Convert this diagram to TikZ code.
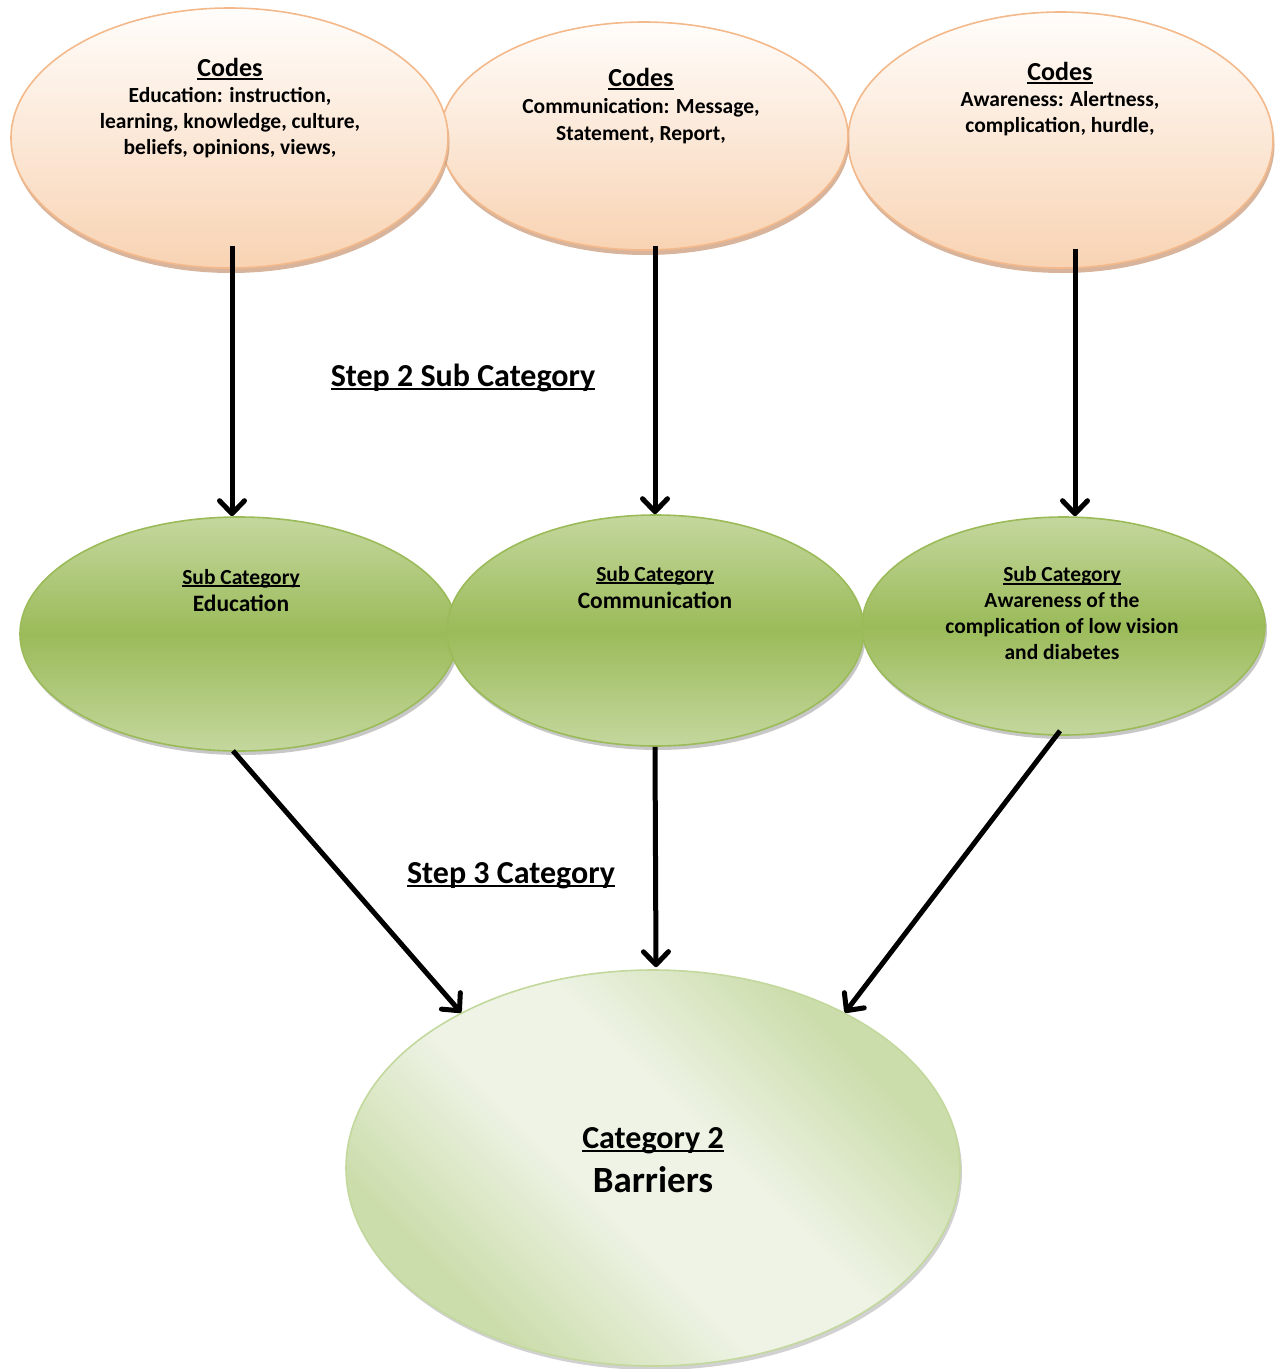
\documentclass[tikz,border=0pt]{standalone}
\usepackage{fontspec}
\setmainfont{Carlito}
\usetikzlibrary{arrows.meta,shapes.geometric,shadows}

% underline at a fixed depth, crossing the descenders
\newsavebox\ulbox
\newcommand\ulbar[1]{\sbox\ulbox{#1}\mbox{\rlap{\rule[-0.13em]{\wd\ulbox}{0.075em}}\usebox\ulbox}}
\newcommand\fs[2]{\fontsize{#1}{#2}\selectfont}

\definecolor{peachtop}{HTML}{FFFDFB}
\definecolor{peachbot}{HTML}{F8D3B3}
\definecolor{peachline}{HTML}{F4B98B}
\definecolor{peachshade}{HTML}{C99B7A}
\definecolor{greenmid}{HTML}{9BBB59}
\definecolor{greenlight}{HTML}{C4D79E}
\definecolor{greenline}{HTML}{9BBB59}
\definecolor{palelight}{HTML}{EEF3E5}
\definecolor{paledark}{HTML}{CCDDAC}
\definecolor{paleline}{HTML}{C2D89C}

% broad light band between two darker edges
\pgfdeclareverticalshading{paleband}{100bp}{%
  color(0bp)=(paledark); color(28bp)=(paledark); color(44bp)=(palelight);
  color(56bp)=(palelight); color(72bp)=(paledark); color(100bp)=(paledark)}

\tikzset{
  codebox/.style={ellipse, draw=peachline, line width=1.6pt,
    top color=peachtop, bottom color=peachbot, inner sep=0pt,
    drop shadow={shadow xshift=1.5pt, shadow yshift=-5pt, fill=peachshade, opacity=0.75}},
  subbox/.style={ellipse, draw=greenline, line width=1.6pt,
    top color=greenlight, bottom color=greenlight, middle color=greenmid, inner sep=0pt,
    drop shadow={shadow xshift=2pt, shadow yshift=-4pt, fill=black, opacity=0.22}},
  catbox/.style={ellipse, draw=paleline, line width=1.6pt,
    shading=paleband, shading angle=-45, inner sep=0pt,
    drop shadow={shadow xshift=2pt, shadow yshift=-4pt, fill=black, opacity=0.18}},
  txt/.style={align=center, inner sep=0pt, anchor=north},
  steplabel/.style={inner sep=0pt, anchor=base, font=\bfseries\fs{32}{38}},
  arr/.style={line width=5pt, -{Straight Barb[length=13pt, width=25pt, line width=5pt, round]}}
}

\begin{document}
\begin{tikzpicture}[x=1pt, y=-1pt]
\useasboundingbox (0,0) rectangle (1285,1369);

% first row: codes
\node[codebox, minimum width=425pt, minimum height=256pt] (c3) at (1060.5,140) {};
\node[codebox, minimum width=408pt, minimum height=228pt] (c2) at (644,136) {};
\node[codebox, minimum width=437pt, minimum height=260pt] (c1) at (229.5,138) {};

\node[txt, font=\bfseries\fs{21.5}{26}] (c1t) at (230,58) {{\fs{26}{26}\ulbar{Codes}}\\ Education: instruction,\\ learning, knowledge, culture,\\ beliefs, opinions, views,};
\node[txt, font=\bfseries\fs{21.5}{27}] (c2t) at (641,68) {{\fs{26}{27}\ulbar{Codes}}\\ Communication: Message,\\ Statement, Report,};
\node[txt, font=\bfseries\fs{21.5}{26}] (c3t) at (1060,62) {{\fs{26}{26}\ulbar{Codes}}\\ Awareness: Alertness,\\ complication, hurdle,};

% second row: sub categories
\node[subbox, minimum width=438pt, minimum height=234pt] (s1) at (239,634) {};
\node[subbox, minimum width=417pt, minimum height=231pt] (s2) at (655.5,630.5) {};
\node[subbox, minimum width=403pt, minimum height=218pt] (s3) at (1063.5,626) {};

\node[txt, font=\bfseries\fs{23.5}{27}] (s1t) at (241,569) {{\fs{21.5}{27}\ulbar{Sub Category}}\\ Education};
\node[txt, font=\bfseries\fs{23.5}{27}] (s2t) at (655,566) {{\fs{21.5}{27}\ulbar{Sub Category}}\\ Communication};
\node[txt, font=\bfseries\fs{21.5}{26}] (s3t) at (1062,566.5) {\ulbar{Sub Category}\\ Awareness of the\\ complication of low vision\\ and diabetes};

% third row: category
\node[catbox, minimum width=614pt, minimum height=396pt] (b) at (653,1168) {};
\node[txt, font=\bfseries\fs{37}{44}] (bt) at (653,1127) {{\fs{32}{44}\ulbar{Category 2}}\\ Barriers};

% step labels
\node[steplabel] (step2) at (463,386) {\ulbar{Step 2 Sub Category}};
\node[steplabel] (step3) at (511,883) {\ulbar{Step 3 Category}};

% connectors
\draw[arr] ([xshift=2.5pt, yshift=23pt]c1.south) -- ([xshift=-7pt]s1.north);
\draw[arr] ([xshift=11pt, yshift=5pt]c2.south) -- ([xshift=-0.5pt]s2.north);
\draw[arr] ([xshift=14.5pt, yshift=20pt]c3.south) -- ([xshift=11.5pt]s3.north);
\draw[arr] ([xshift=-6pt, yshift=1pt]s1.south) -- (b.141.6);
\draw[arr] ([xshift=-0.5pt]s2.south) -- ([xshift=3pt, yshift=2pt]b.north);
\draw[arr] ([xshift=-3.5pt, yshift=5pt]s3.south) -- (b.39.4);
\end{tikzpicture}
\end{document}
